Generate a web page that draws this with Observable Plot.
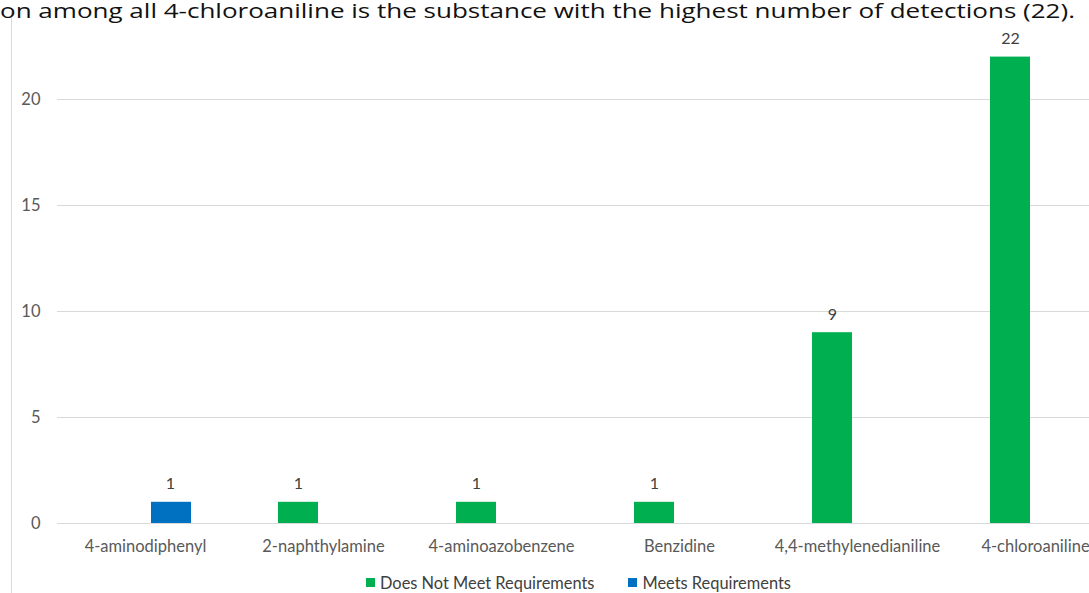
<!DOCTYPE html>
<html>
<head>
<meta charset="utf-8">
<script src="https://cdn.jsdelivr.net/npm/d3@7"></script>
<script src="https://cdn.jsdelivr.net/npm/@observablehq/plot@0.6"></script>
<style>
  html, body { margin: 0; padding: 0; background: #fff; }
  body { width: 1089px; height: 593px; overflow: hidden; position: relative; font-family: Lato, "Open Sans", sans-serif; }
  #spacer { height: 20px; }
  #title { position: absolute; left: 0; top: 0; z-index: 2; }
  #border { position: absolute; left: 11px; top: 12px; bottom: 0; width: 1px; background: #d9d9d9; z-index: 1; }
  #chart svg { display: block; overflow: hidden; }
  #legend { position: absolute; left: 366px; top: 573px; display: flex; align-items: center; font-size: 16.4px; color: #404040; gap: 34px; }
  #legend .item { display: flex; align-items: center; gap: 5px; }
  #legend .sw { width: 9px; height: 9px; display: inline-block; }
</style>
</head>
<body>
<div id="spacer"></div>
<div id="chart"></div>
<div id="border"></div>
<svg id="title" width="1089" height="26"><text x="0" y="17.5" font-size="19.5" font-weight="400" fill="#111" font-family="'Open Sans', Lato, sans-serif" textLength="1075" lengthAdjust="spacingAndGlyphs">on among all 4-chloroaniline is the substance with the highest number of detections (22).</text></svg>
<div id="legend"></div>
<script>
const categories = ["4-aminodiphenyl", "2-naphthylamine", "4-aminoazobenzene", "Benzidine", "4,4-methylenedianiline", "4-chloroaniline"];
const seriesNames = ["Does Not Meet Requirements", "Meets Requirements"];
const seriesColors = ["#00b050", "#0070c0"];
const doesNotMeet = [0, 1, 1, 1, 9, 22];
const meets = [1, 0, 0, 0, 0, 0];
const yTicks = [0, 5, 10, 15, 20];

const rows = [];
categories.forEach((c, i) => {
  rows.push({category: c, series: seriesNames[0], value: doesNotMeet[i]});
  rows.push({category: c, series: seriesNames[1], value: meets[i]});
});
const green = rows.filter(d => d.series === seriesNames[0] && d.value > 0);
const blue = rows.filter(d => d.series === seriesNames[1] && d.value > 0);

const chart = Plot.plot({
  width: 1089,
  height: 545,
  marginLeft: 57,
  marginRight: 0,
  marginTop: 15.4,
  marginBottom: 42,
  style: {fontFamily: "Lato, 'Open Sans', sans-serif", background: "#fff"},
  x: {domain: categories, range: [56, 1124], padding: 0},
  y: {domain: [0, 23]},
  color: {domain: seriesNames, range: seriesColors},
  marks: [
    Plot.gridY(yTicks, {stroke: "#d9d9d9", strokeOpacity: 1, strokeWidth: 1}),
    Plot.barY(green, {x: "category", y: "value", fill: "series", insetLeft: 44, insetRight: 94}),
    Plot.barY(blue, {x: "category", y: "value", fill: "series", insetLeft: 95, insetRight: 43}),
    Plot.text(green, {x: "category", y: "value", text: d => String(d.value), dx: -25, dy: -18, fontSize: 16, fill: "#404040"}),
    Plot.text(blue, {x: "category", y: "value", text: d => String(d.value), dx: 25, dy: -18, fontSize: 16, fill: "#404040"}),
    Plot.axisY({ticks: yTicks, tickSize: 0, tickPadding: 17, fontSize: 16.5, color: "#595959", label: null}),
    Plot.axisX({tickSize: 0, tickPadding: 17, fontSize: 16.5, color: "#595959", label: null})
  ]
});
document.getElementById("chart").appendChild(chart);

const legend = document.getElementById("legend");
seriesNames.forEach((s, i) => {
  const item = document.createElement("div");
  item.className = "item";
  const sw = document.createElement("span");
  sw.className = "sw";
  sw.style.background = seriesColors[i];
  const t = document.createElement("span");
  t.textContent = s;
  item.appendChild(sw);
  item.appendChild(t);
  legend.appendChild(item);
});
</script>
</body>
</html>
